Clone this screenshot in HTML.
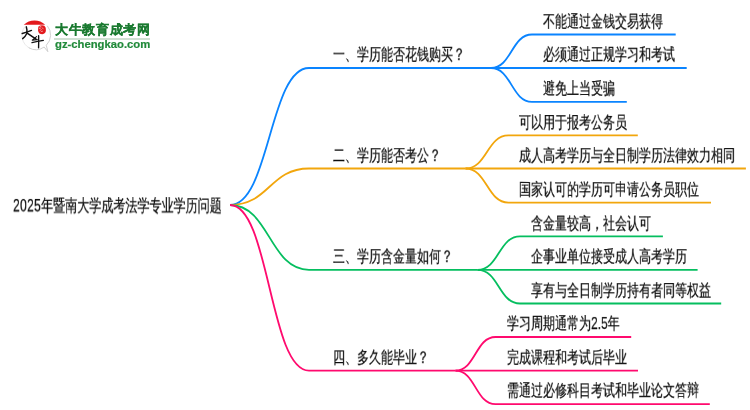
<!DOCTYPE html>
<html><head><meta charset="utf-8"><style>
html,body{margin:0;padding:0;background:#fff;width:750px;height:410px;overflow:hidden;position:relative}
body{font-family:"Liberation Sans",sans-serif}
.t{position:absolute;white-space:nowrap;font-size:18px;line-height:18px;color:#0d0d0d;transform:scale(0.6667,0.93);transform-origin:0 0;will-change:transform;-webkit-font-smoothing:antialiased;-webkit-text-stroke:0.25px #0d0d0d}
svg{position:absolute;left:0;top:0}
.br path{fill:none;stroke-width:1.8;stroke-linecap:butt}
.logo1{position:absolute;left:54.5px;top:23.2px;font-size:13px;line-height:13px;letter-spacing:0.64px;font-weight:bold;color:#1a7a30;white-space:nowrap;-webkit-text-stroke:0.25px #1a7a30;will-change:transform;-webkit-font-smoothing:antialiased}
.logo2{position:absolute;left:55px;top:39.1px;font-size:11px;line-height:11px;font-weight:bold;color:#218a3a;white-space:nowrap;-webkit-text-stroke:0.2px #218a3a;transform:scaleX(1.025);transform-origin:0 0;will-change:transform}
</style></head><body>
<svg class="br" width="750" height="410" viewBox="0 0 750 410">
<path d="M230,205 C269.5,205 269.5,68.0 309,68.0 L491,68.0" stroke="#0a84ff"/>
<path d="M491,68.0 C511.5,68.0 511.5,34.5 532,34.5 L675.7,34.5" stroke="#0a84ff"/>
<path d="M491,68.0 C511.5,68.0 511.5,68.0 532,68.0 L686.7,68.0" stroke="#0a84ff"/>
<path d="M491,68.0 C511.5,68.0 511.5,101.8 532,101.8 L626.8,101.8" stroke="#0a84ff"/>
<path d="M230,205 C269.5,205 269.5,168.5 309,168.5 L465.5,168.5" stroke="#f2a60c"/>
<path d="M465.5,168.5 C486.95,168.5 486.95,135.4 508.4,135.4 L637.8,135.4" stroke="#f2a60c"/>
<path d="M465.5,168.5 C486.95,168.5 486.95,168.5 508.4,168.5 L745.9,168.5" stroke="#f2a60c"/>
<path d="M465.5,168.5 C486.95,168.5 486.95,202.6 508.4,202.6 L711,202.6" stroke="#f2a60c"/>
<path d="M230,205 C269.5,205 269.5,269.8 309,269.8 L477.6,269.8" stroke="#05be5f"/>
<path d="M477.6,269.8 C498.8,269.8 498.8,236.3 520,236.3 L662.9,236.3" stroke="#05be5f"/>
<path d="M477.6,269.8 C498.8,269.8 498.8,269.8 520,269.8 L697.6,269.8" stroke="#05be5f"/>
<path d="M477.6,269.8 C498.8,269.8 498.8,303.5 520,303.5 L721.2,303.5" stroke="#05be5f"/>
<path d="M230,205 C269.5,205 269.5,370.6 309,370.6 L455.5,370.6" stroke="#ff0a6e"/>
<path d="M455.5,370.6 C475.5,370.6 475.5,337.0 495.5,337.0 L631.2,337.0" stroke="#ff0a6e"/>
<path d="M455.5,370.6 C475.5,370.6 475.5,370.6 495.5,370.6 L638,370.6" stroke="#ff0a6e"/>
<path d="M455.5,370.6 C475.5,370.6 475.5,404.2 495.5,404.2 L709.8,404.2" stroke="#ff0a6e"/>
</svg>
<div class="t" style="left:333px;top:46.2px">一、学历能否花钱购买？</div>
<div class="t" style="left:543px;top:12.7px">不能通过金钱交易获得</div>
<div class="t" style="left:543px;top:46.2px">必须通过正规学习和考试</div>
<div class="t" style="left:543px;top:80.0px">避免上当受骗</div>
<div class="t" style="left:333px;top:146.7px">二、学历能否考公？</div>
<div class="t" style="left:519.4px;top:113.6px">可以用于报考公务员</div>
<div class="t" style="left:519.4px;top:146.7px">成人高考学历与全日制学历法律效力相同</div>
<div class="t" style="left:519.4px;top:180.8px">国家认可的学历可申请公务员职位</div>
<div class="t" style="left:333px;top:248.0px">三、学历含金量如何？</div>
<div class="t" style="left:531px;top:214.5px">含金量较高，社会认可</div>
<div class="t" style="left:531px;top:248.0px">企事业单位接受成人高考学历</div>
<div class="t" style="left:531px;top:281.7px">享有与全日制学历持有者同等权益</div>
<div class="t" style="left:333px;top:348.8px">四、多久能毕业？</div>
<div class="t" style="left:506.5px;top:315.2px">学习周期通常为2.5年</div>
<div class="t" style="left:506.5px;top:348.8px">完成课程和考试后毕业</div>
<div class="t" style="left:506.5px;top:382.4px">需通过必修科目考试和毕业论文答辩</div>
<div class="t" style="left:13px;top:197px;transform:scale(0.669,0.96)"><span style="letter-spacing:0.49px">2025</span>年暨南大学成考法学专业学历问题</div>
<svg width="750" height="410" viewBox="0 0 750 410" style="position:absolute;left:0;top:0">
<g transform="translate(18,16) scale(0.09756)">
<path d="M120,330 A148,148 0 0 1 70,110" fill="none" stroke="#e6e6e6" stroke-width="9"/>
<path d="M110,325 A148,148 0 0 0 268,318 L306,366 L290,300 A148,148 0 0 0 300,100" fill="none" stroke="#cfcfcf" stroke-width="10" stroke-linejoin="round"/>
<path d="M59,90 A157,157 0 0 1 279,90 Z" fill="#e3191d"/>
<path d="M212,104 Q240,90 270,100 Q290,115 286,148 Q284,182 250,186 Q212,186 206,150 Q202,120 212,104 Z" fill="#e3191d"/>
<path d="M222,112 L236,106 M215,130 L232,124 M226,148 L240,140 M248,120 L258,132 M238,160 L252,156" stroke="#f4b0b0" stroke-width="8" fill="none" stroke-linecap="round"/>
<path d="M43,179 Q90,166 138,148" stroke="#111" stroke-width="15" fill="none" stroke-linecap="round"/>
<path d="M85,111 Q96,145 90,179 Q76,210 48,232" stroke="#111" stroke-width="15" fill="none" stroke-linecap="round"/>
<path d="M90,174 Q140,208 185,237" stroke="#111" stroke-width="16" fill="none" stroke-linecap="round"/>
<path d="M190,211 L146,247 L198,242" stroke="#111" stroke-width="11" fill="none" stroke-linecap="round" stroke-linejoin="round"/>
<path d="M143,272 Q200,262 260,250" stroke="#111" stroke-width="13" fill="none" stroke-linecap="round"/>
<path d="M211,202 Q213,265 211,326" stroke="#111" stroke-width="14" fill="none" stroke-linecap="round"/>
</g>
</svg>
<div class="logo1">大牛教育成考网</div>
<div style="position:absolute;left:54px;top:38px;width:96px;height:1.5px;background:#cfe0d2"></div>
<div class="logo2">gz-chengkao.com</div>
</body></html>
